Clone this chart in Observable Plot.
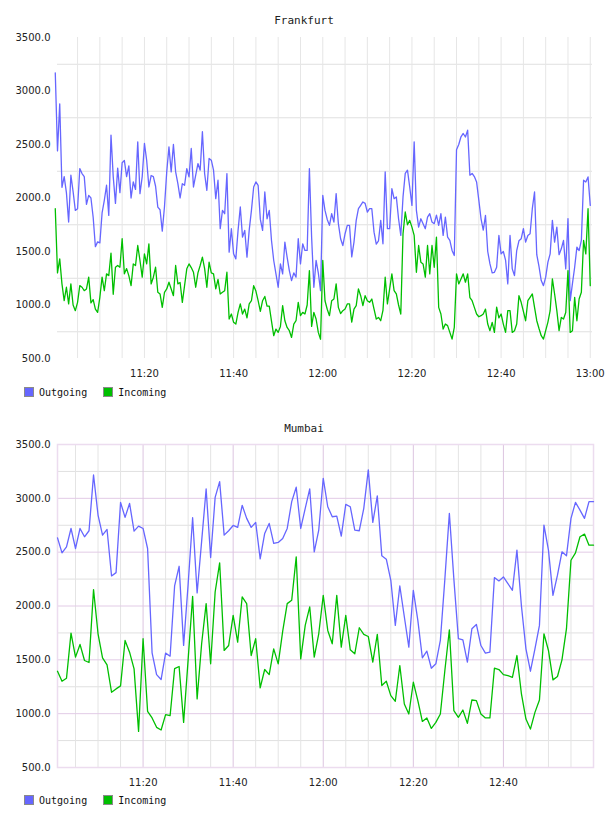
<!DOCTYPE html>
<html>
<head>
<meta charset="utf-8">
<script src="https://cdn.jsdelivr.net/npm/d3@7"></script>
<script src="https://cdn.jsdelivr.net/npm/@observablehq/plot@0.6"></script>
<style>
  html, body { margin: 0; padding: 0; background: #fff; }
  body { position: relative; width: 608px; height: 816px; overflow: hidden; }
  .title { position: absolute; left: 0; width: 608px; text-align: center;
           font: 11px "DejaVu Sans Mono", monospace; line-height: 13px; color: #222; }
  .panel { position: absolute; left: 0; }
  .legend { position: absolute; left: 24px; height: 10px; display: flex; align-items: center;
            font: 10px "DejaVu Sans Mono", monospace; color: #111; }
  .legend .item { display: flex; align-items: center; margin-right: 16px; }
  .legend .sw { width: 8px; height: 8px; border: 1px solid #8a8a8a; margin-right: 5px; }
</style>
</head>
<body>
<script>
// Frankfurt: 30-second samples from 11:00 to 13:00
const outgoingFrankfurt = [
  3170, 2440, 2880, 2100, 2200, 2050, 1775, 2213, 2060, 1884,
  1900, 2275, 2228, 2200, 1940, 2025, 2000, 1820, 1545, 1590,
  1580, 1860, 1978, 2119, 1837, 2588, 2200, 1950, 2280, 2050,
  2330, 2350, 2200, 2300, 2000, 2150, 2080, 2525, 2040, 2200,
  2510, 2353, 2103, 2210, 2200, 2110, 1915, 1890, 1690, 1920,
  2244, 2478, 2244, 2500, 2244, 2134, 2000, 2134, 2119, 2275,
  2197, 2463, 2103, 2213, 2322, 2260, 2619, 2228, 2072, 2369,
  2353, 2260, 1994, 2166, 1713, 1884, 1853, 2228, 1494, 1713,
  1478, 1431, 1697, 1916, 1634, 1697, 1447, 1700, 1884, 2103,
  2150, 2119, 1800, 1697, 2056, 1806, 1884, 1603, 1416, 1291,
  1166, 1384, 1291, 1588, 1447, 1322, 1228, 1300, 1260, 1619,
  1384, 1572, 1510, 1510, 2275, 1634, 1166, 1416, 1300, 1134,
  2025, 1884, 1800, 1744, 1853, 1775, 2041, 1760, 1619, 1556,
  1666, 1744, 1744, 1450, 1588, 1791, 1900, 1931, 1963, 1950,
  1869, 1900, 1900, 1681, 1570, 1600, 1791, 1572, 2244, 1713,
  1713, 2088, 1994, 2010, 1806, 1650, 2010, 2230, 2260, 2103,
  1931, 2525, 1884, 1728, 1806, 1760, 1713, 1822, 1853, 1775,
  1760, 1840, 1744, 1853, 1650, 1822, 1634, 1603, 1510, 1463,
  2450, 2500, 2572, 2603, 2570, 2634, 2213, 2230, 2200, 2150,
  1980, 1806, 1700, 1837, 1500, 1384, 1300, 1306, 1353, 1650,
  1478, 1500, 1420, 1197, 1650, 1338, 1275, 1509, 1600, 1619,
  1713, 1588, 1650, 1666, 1900, 2056, 1470, 1360, 1228, 1181,
  1260, 1400, 1478, 1791, 1588, 1728, 1470, 1525, 1603, 1338,
  1806, 1041, 1200, 1353, 1541, 1509, 1603, 2166, 2150, 2197,
  1931
];
const incomingFrankfurt = [
  1900, 1300, 1431, 1197, 1040, 1166, 1010, 1197, 1000, 947,
  1025, 1181, 1166, 1134, 1150, 1260, 1020, 1050, 962, 931,
  1072, 1260, 1134, 1291, 1275, 1485, 1100, 1353, 1369, 1353,
  1619, 1291, 1340, 1275, 1181, 1384, 1369, 1556, 1416, 1260,
  1478, 1384, 1572, 1197, 1260, 1353, 1119, 1103, 978, 1119,
  1150, 1213, 1150, 1087, 1369, 1197, 1210, 1025, 1181, 1338,
  1384, 1350, 1306, 1166, 1300, 1369, 1447, 1340, 1166, 1400,
  1300, 1291, 1150, 1240, 1103, 1119, 1134, 1306, 869, 916,
  838, 822, 931, 1010, 916, 962, 880, 1010, 1040, 1181,
  1130, 1040, 940, 1040, 1080, 990, 990, 850, 713, 775,
  744, 800, 994, 853, 790, 760, 697, 822, 853, 1025,
  900, 931, 916, 1000, 1322, 800, 931, 869, 744, 680,
  1416, 1040, 960, 900, 1040, 1056, 1197, 978, 920, 947,
  962, 1010, 1010, 840, 962, 994, 1150, 1087, 994, 1087,
  1040, 1025, 1056, 962, 869, 884, 853, 950, 1260, 1010,
  1150, 1291, 1134, 1103, 1000, 916, 1666, 1869, 1750, 1791,
  1728, 1650, 1306, 1556, 1400, 1384, 1260, 1556, 1291, 1556,
  1353, 1634, 978, 916, 775, 822, 807, 744, 682, 791,
  1291, 1197, 1244, 1291, 1213, 1291, 1070, 1040, 978, 916,
  890, 900, 916, 962, 822, 760, 838, 744, 980, 880,
  916, 822, 744, 947, 947, 744, 760, 822, 1087, 1025,
  940, 853, 1040, 1072, 1103, 978, 853, 780, 713, 682,
  760, 840, 947, 1244, 1103, 947, 760, 884, 869, 930,
  1322, 744, 760, 1072, 853, 1056, 1119, 1603, 1478, 1900,
  1181
];

// Mumbai: one sample per minute from 11:01 to 13:00
const outgoingMumbai = [
  2633, 2494, 2550, 2720, 2534, 2720, 2643, 2699, 3217, 2845,
  2658, 2711, 2279, 2310, 2963, 2823, 2953, 2696, 2742, 2720,
  2534, 1565, 1363, 1317, 1562, 1534, 2186, 2369, 1634, 2200,
  2820, 2121, 2600, 3087, 2450, 3009, 3155, 2658, 2699, 2748,
  2730, 2935, 2814, 2730, 2776, 2438, 2674, 2767, 2581, 2590,
  2627, 2720, 2969, 3103, 2720, 2907, 3087, 2503, 2705, 3186,
  2922, 2829, 2835, 2649, 2944, 2922, 2705, 2699, 2907, 3264,
  2776, 3022, 2466, 2435, 2239, 1820, 2186, 1900, 1618, 2146,
  1866, 1519, 1581, 1422, 1463, 1680, 2250, 2860, 2250, 1696,
  1686, 1478, 1789, 1829, 1633, 1562, 1572, 2264, 2233, 2270,
  2208, 2146, 2519, 2000, 1602, 1394, 1602, 1820, 2752, 2519,
  2099, 2286, 2503, 2466, 2814, 2963, 2891, 2814, 2969, 2969
];
const incomingMumbai = [
  1394, 1301, 1329, 1748, 1525, 1643, 1494, 1475, 2152, 1742,
  1519, 1453, 1199, 1230, 1258, 1680, 1571, 1416, 835, 1696,
  1022, 960, 873, 848, 991, 981, 1419, 1438, 919, 1500,
  2090, 1137, 1649, 2022, 1463, 2130, 2401, 1587, 1633, 1913,
  1665, 2084, 2022, 1540, 1696, 1239, 1410, 1363, 1602, 1463,
  1767, 2022, 2053, 2456, 1509, 1820, 1991, 1525, 1742, 2099,
  1773, 1649, 2099, 1618, 1913, 1593, 1556, 1798, 1736, 1717,
  1478, 1736, 1261, 1301, 1168, 1115, 1447, 1090, 997, 1292,
  1121, 928, 960, 863, 919, 997, 1401, 1779, 1028, 966,
  1034, 910, 1127, 1121, 997, 960, 960, 1422, 1410, 1363,
  1354, 1338, 1540, 1183, 950, 857, 1012, 1127, 1742, 1587,
  1314, 1345, 1500, 1789, 2425, 2494, 2643, 2668, 2565, 2565
];

const seriesNames = ["Outgoing", "Incoming"];
const seriesColors = ["#6666ff", "#00bf00"];
const yTicks = [500, 1000, 1500, 2000, 2500, 3000, 3500];
const yMinorGrid = [750, 1250, 1750, 2250, 2750, 3250];
const frankfurtTimeTicks = ["11:20", "11:40", "12:00", "12:20", "12:40", "13:00"];
const mumbaiTimeTicks = ["11:20", "11:40", "12:00", "12:20", "12:40"];

const at = (h, m, s = 0) => new Date(Date.UTC(2020, 0, 1, h, m, s));
const toTime = (label) => { const [h, m] = label.split(":").map(Number); return at(h, m); };
const hhmm = d3.utcFormat("%H:%M");

function series(values, start, stepMs) {
  return values.map((v, i) => ({ t: new Date(+start + i * stepMs), v }));
}

function addTitle(text, top) {
  const d = document.createElement("div");
  d.className = "title";
  d.style.top = top + "px";
  d.textContent = text;
  document.body.appendChild(d);
}

function addLegend(top) {
  const lg = document.createElement("div");
  lg.className = "legend";
  lg.style.top = top + "px";
  seriesNames.forEach((name, i) => {
    const it = document.createElement("div");
    it.className = "item";
    const sw = document.createElement("div");
    sw.className = "sw";
    sw.style.background = seriesColors[i];
    const tx = document.createElement("span");
    tx.textContent = name;
    it.appendChild(sw);
    it.appendChild(tx);
    lg.appendChild(it);
  });
  document.body.appendChild(lg);
}

function addPanel(svg, top) {
  const wrap = document.createElement("div");
  wrap.className = "panel";
  wrap.style.top = top + "px";
  wrap.appendChild(svg);
  document.body.appendChild(wrap);
}

const baseStyle = { fontFamily: "DejaVu Sans", fontSize: "10px", color: "#222", background: "transparent", overflow: "visible" };

// ---- Frankfurt ----
const fStart = at(11, 0, 0);
const fOut = series(outgoingFrankfurt, fStart, 30000);
const fIn = series(incomingFrankfurt, fStart, 30000);
const fVertGrid = d3.utcMinute.every(5).range(at(11, 5), at(13, 0, 1));

addTitle("Frankfurt", 14);
addPanel(Plot.plot({
  width: 608, height: 352,
  marginLeft: 57, marginRight: 16, marginTop: 7, marginBottom: 24,
  style: baseStyle,
  x: { type: "utc", domain: [at(11, 0, 30), at(13, 0, 30)], ticks: frankfurtTimeTicks.map(toTime),
       tickFormat: hhmm, tickSize: 0, tickPadding: 11, label: null },
  y: { domain: [500, 3500], ticks: yTicks, tickFormat: d => d.toFixed(1), tickSize: 0, tickPadding: 7, label: null },
  marks: [
    Plot.ruleY(yMinorGrid, { stroke: "#e0e0e0", strokeWidth: 1 }),
    Plot.ruleX(fVertGrid, { stroke: "#e6e6e6", strokeWidth: 1 }),
    Plot.line(fOut, { x: "t", y: "v", stroke: seriesColors[0], strokeWidth: 1.3 }),
    Plot.line(fIn, { x: "t", y: "v", stroke: seriesColors[1], strokeWidth: 1.3 })
  ]
}), 30);
addLegend(387);

// ---- Mumbai ----
const mStart = at(11, 1, 0);
const mOut = series(outgoingMumbai, mStart, 60000);
const mIn = series(incomingMumbai, mStart, 60000);
const mMajorX = mumbaiTimeTicks.map(toTime);
const mMinorX = d3.utcMinute.every(5).range(at(11, 5), at(12, 56))
  .filter(d => d.getUTCMinutes() % 20 !== 0);

addTitle("Mumbai", 422);
addPanel(Plot.plot({
  width: 608, height: 354,
  marginLeft: 57, marginRight: 15, marginTop: 7, marginBottom: 24,
  style: baseStyle,
  x: { type: "utc", domain: [at(11, 1), at(13, 0)], ticks: mMajorX,
       tickFormat: hhmm, tickSize: 0, tickPadding: 11, label: null },
  y: { domain: [500, 3500], ticks: yTicks, tickFormat: d => d.toFixed(1), tickSize: 0, tickPadding: 7, label: null },
  marks: [
    Plot.ruleY(yMinorGrid, { stroke: "#e0e0e0", strokeWidth: 1 }),
    Plot.ruleX(mMinorX, { stroke: "#e4e4e4", strokeWidth: 1 }),
    Plot.ruleY(yTicks.slice(1, -1), { stroke: "#e2cbe6", strokeWidth: 1 }),
    Plot.ruleX(mMajorX, { stroke: "#dcc4e0", strokeWidth: 1 }),
    Plot.frame({ stroke: "#ecdcef", strokeWidth: 1.5 }),
    Plot.line(mOut, { x: "t", y: "v", stroke: seriesColors[0], strokeWidth: 1.3 }),
    Plot.line(mIn, { x: "t", y: "v", stroke: seriesColors[1], strokeWidth: 1.3 })
  ]
}), 437);
addLegend(795);
</script>
</body>
</html>
